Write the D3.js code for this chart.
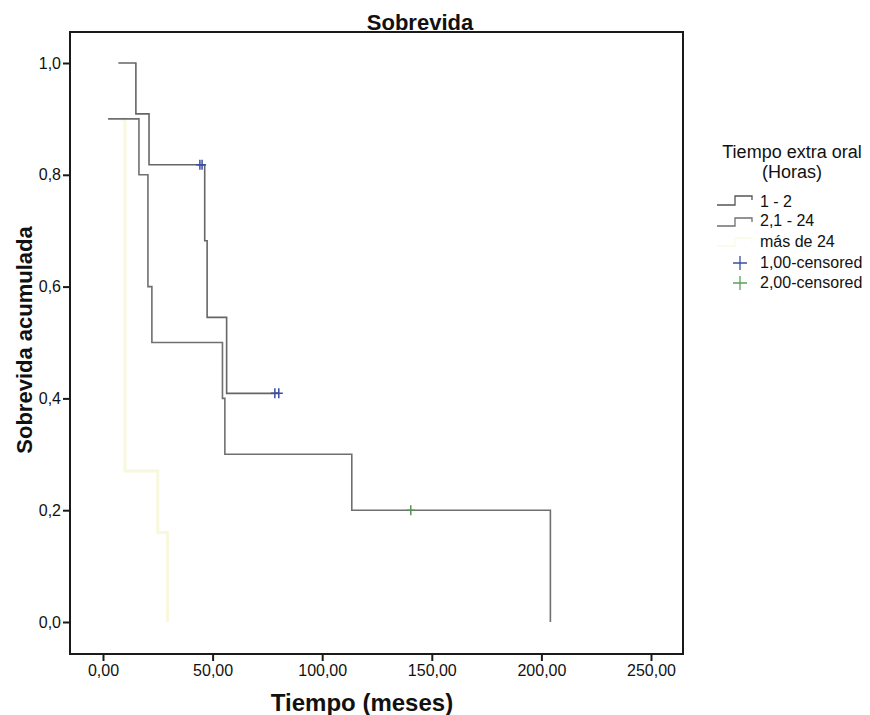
<!DOCTYPE html>
<html>
<head>
<meta charset="utf-8">
<script src="https://cdnjs.cloudflare.com/ajax/libs/d3/7.8.5/d3.min.js"></script>
<style>
body { margin: 0; background: #fff; }
text { font-family: "Liberation Sans", Arial, sans-serif; fill: #111; }
.tick text { font-size: 16px; }
</style>
</head>
<body>
<script>
// grupo 1 - 2 (horas)
var tiempo1 = [7, 15, 21, 46.4, 47.5, 56.4, 80.2];
var sobrev1 = [1.0, 0.909, 0.818, 0.682, 0.545, 0.409, 0.409];
var censT1 = [44.2, 45.2, 78.4, 80.2];
var censS1 = [0.818, 0.818, 0.409, 0.409];

// grupo 2,1 - 24
var tiempo2 = [2.3, 16.4, 20.5, 22.3, 54.5, 55.6, 113.5, 204.1];
var sobrev2 = [0.9, 0.8, 0.6, 0.5, 0.4, 0.3, 0.2, 0.0];
var censT2 = [140.4];
var censS2 = [0.2];

// grupo mas de 24 (casi invisible en el original)
var tiempo3 = [8, 10, 25, 29.5];
var sobrev3 = [0.9, 0.27, 0.16, 0.0];

var xTicks = [0, 50, 100, 150, 200, 250];
var yTicks = [0, 0.2, 0.4, 0.6, 0.8, 1.0];
var legendItems = ["1 - 2", "2,1 - 24", "más de 24", "1,00-censored", "2,00-censored"];

var ancho = 870, alto = 715;
var marco = {left: 70, top: 32, right: 683, bottom: 654};

var svg = d3.select("body").append("svg")
    .attr("width", ancho)
    .attr("height", alto);

var x = d3.scaleLinear().domain([0, 250]).range([103, 651]);
var y = d3.scaleLinear().domain([0, 1]).range([622, 63]);

// marco
svg.append("rect")
    .attr("x", marco.left)
    .attr("y", marco.top)
    .attr("width", marco.right - marco.left)
    .attr("height", marco.bottom - marco.top)
    .attr("fill", "none")
    .attr("stroke", "#1a1a1a")
    .attr("stroke-width", 2);

var fmtY = function(d){ return d3.format(".1f")(d).replace(".", ","); };
var fmtX = function(d){ return d3.format(".2f")(d).replace(".", ","); };

var ejeY = svg.append("g")
    .attr("transform", "translate(" + marco.left + ",0)")
    .call(d3.axisLeft(y).tickValues(yTicks).tickFormat(fmtY).tickSize(7).tickPadding(2));
ejeY.select(".domain").remove();
ejeY.selectAll(".tick line").attr("stroke", "#1a1a1a").attr("stroke-width", 2);

var ejeX = svg.append("g")
    .attr("transform", "translate(0," + marco.bottom + ")")
    .call(d3.axisBottom(x).tickValues(xTicks).tickFormat(fmtX).tickSize(7).tickPadding(4));
ejeX.select(".domain").remove();
ejeX.selectAll(".tick line").attr("stroke", "#1a1a1a").attr("stroke-width", 2);

// titulos
svg.append("text")
    .attr("x", 420).attr("y", 30)
    .attr("text-anchor", "middle")
    .style("font-size", "22px").style("font-weight", "bold")
    .text("Sobrevida");

svg.append("text")
    .attr("x", 362).attr("y", 711)
    .attr("text-anchor", "middle")
    .style("font-size", "24px").style("font-weight", "bold")
    .text("Tiempo (meses)");

svg.append("text")
    .attr("transform", "translate(32,340) rotate(-90)")
    .attr("text-anchor", "middle")
    .style("font-size", "22px").style("font-weight", "bold")
    .text("Sobrevida acumulada");

// curvas
var linea = d3.line()
    .x(function(d){ return x(d[0]); })
    .y(function(d){ return y(d[1]); })
    .curve(d3.curveStepAfter);

function puntos(ts, ss){
    return ts.map(function(t, i){ return [t, ss[i]]; });
}

svg.append("path")
    .attr("d", linea(puntos(tiempo3, sobrev3)))
    .attr("fill", "none")
    .attr("stroke", "#f8f8dc")
    .attr("stroke-width", 3);

svg.append("path")
    .attr("d", linea(puntos(tiempo2, sobrev2)))
    .attr("fill", "none")
    .attr("stroke", "#6f6f6f")
    .attr("stroke-width", 1.6);

svg.append("path")
    .attr("d", linea(puntos(tiempo1, sobrev1)))
    .attr("fill", "none")
    .attr("stroke", "#666")
    .attr("stroke-width", 1.6);

var cruz = "M0,-5V5M-4,0H4";

function censurados(ts, ss, color){
    svg.append("g").selectAll("path")
        .data(puntos(ts, ss))
        .enter().append("path")
        .attr("transform", function(d){ return "translate(" + x(d[0]) + "," + y(d[1]) + ")"; })
        .attr("d", cruz)
        .attr("stroke", color)
        .attr("stroke-width", 1.5)
        .attr("fill", "none");
}
censurados(censT1, censS1, "#3c4ea0");
censurados(censT2, censS2, "#5c8f5c");

// leyenda
var ley = svg.append("g");
ley.append("text")
    .attr("x", 792).attr("y", 158)
    .attr("text-anchor", "middle")
    .style("font-size", "18px")
    .text("Tiempo extra oral");
ley.append("text")
    .attr("x", 792).attr("y", 178)
    .attr("text-anchor", "middle")
    .style("font-size", "18px")
    .text("(Horas)");

var yLey = [207, 226, 247, 268, 288];
ley.selectAll("text.item")
    .data(legendItems)
    .enter().append("text")
    .attr("class", "item")
    .attr("x", 760)
    .attr("y", function(d, i){ return yLey[i]; })
    .style("font-size", "16px")
    .text(function(d){ return d; });

ley.append("path")
    .attr("d", "M717,205H735V196H752V200")
    .attr("fill", "none").attr("stroke", "#555").attr("stroke-width", 1.3);
ley.append("path")
    .attr("d", "M717,226H735V218H752V222")
    .attr("fill", "none").attr("stroke", "#6f6f6f").attr("stroke-width", 1.3);
ley.append("path")
    .attr("d", "M717,246H735V238H752V242")
    .attr("fill", "none").attr("stroke", "#fafae6").attr("stroke-width", 1.3);

ley.append("path")
    .attr("transform", "translate(740,263)")
    .attr("d", "M0,-7V7M-7,0H7")
    .attr("stroke", "#3c4ea0").attr("stroke-width", 1.3);
ley.append("path")
    .attr("transform", "translate(740,283)")
    .attr("d", "M0,-7V7M-7,0H7")
    .attr("stroke", "#5aa05a").attr("stroke-width", 1.3);
</script>
</body>
</html>
